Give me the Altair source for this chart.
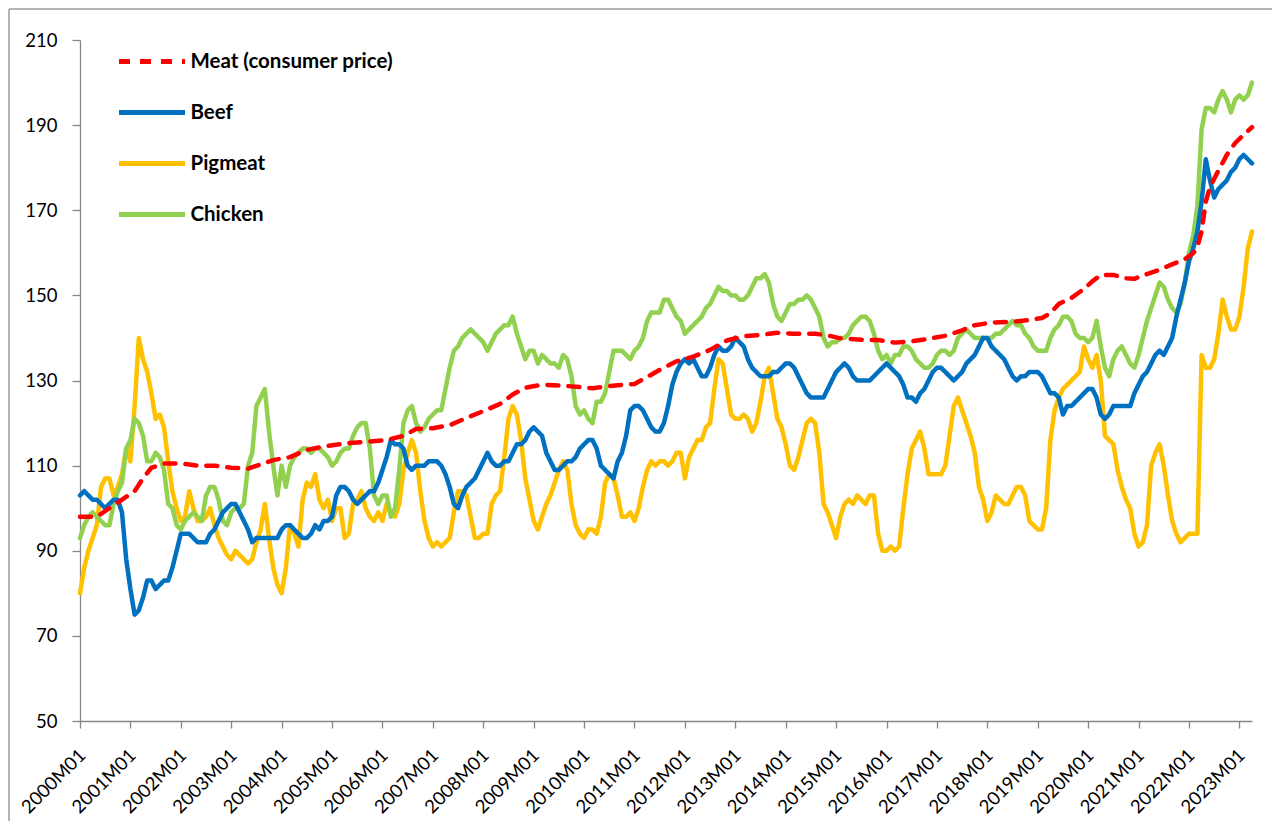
import altair as alt
import pandas as pd

SERIES = ["Meat (consumer price)", "Beef", "Pigmeat", "Chicken"]
COLORS = ["#FF0000", "#0070C0", "#FFC000", "#92D050"]
DASHES = [[11, 10], [1, 0], [1, 0], [1, 0]]

# monthly index 0 = 2000M01 ... 279 = 2023M04
beef = [
    103, 104, 103, 102, 102, 101, 100, 101, 102, 102, 99, 88,
    81, 75, 76, 79, 83, 83, 81, 82, 83, 83, 86, 90,
    94, 94, 94, 93, 92, 92, 92, 94, 95, 97, 99, 100,
    101, 101, 99, 97, 95, 92, 93, 93, 93, 93, 93, 93,
    95, 96, 96, 95, 94, 93, 93, 94, 96, 95, 97, 97,
    98, 103, 105, 105, 104, 102, 101, 102, 103, 104, 104, 106,
    109, 112, 116, 115, 115, 114, 110, 109, 110, 110, 110, 111,
    111, 111, 110, 108, 105, 101, 100, 103, 105, 106, 107, 109,
    111, 113, 111, 110, 110, 111, 111, 113, 115, 115, 116, 118,
    119, 118, 117, 113, 111, 109, 109, 110, 111, 111, 112, 114,
    115, 116, 116, 114, 110, 109, 108, 107, 111, 113, 117, 123,
    124, 124, 123, 121, 119, 118, 118, 120, 124, 129, 132, 134,
    135, 134, 135, 133, 131, 131, 133, 136, 138, 137, 137, 138,
    140, 139, 138, 135, 133, 132, 131, 131, 131, 132, 132, 133,
    134, 134, 133, 131, 129, 127, 126, 126, 126, 126, 128, 130,
    132, 133, 134, 133, 131, 130, 130, 130, 130, 131, 132, 133,
    134, 133, 132, 131, 129, 126, 126, 125, 127, 128, 130, 132,
    133, 133, 132, 131, 130, 131, 132, 134, 135, 136, 138, 140,
    140, 138, 137, 136, 135, 133, 131, 130, 131, 131, 132, 132,
    132, 131, 129, 127, 127, 126, 122, 124, 124, 125, 126, 127,
    128, 128, 126, 122, 121, 122, 124, 124, 124, 124, 124, 127,
    129, 131, 132, 134, 136, 137, 136, 138, 140, 145, 149, 153,
    158, 161, 165, 172, 182, 177, 173, 175, 176, 177, 179, 180,
    182, 183, 182, 181,
]

pigmeat = [
    80, 86, 90, 93, 96, 105, 107, 107, 103, 105, 108, 114,
    111, 124, 140, 135, 132, 127, 121, 122, 119, 111, 104, 100,
    97, 98, 104, 100, 97, 97, 98, 100, 96, 93, 91, 89,
    88, 90, 89, 88, 87, 88, 92, 95, 101, 93, 86, 82,
    80, 86, 96, 94, 91, 102, 106, 105, 108, 102, 100, 102,
    97, 100, 100, 93, 94, 101, 102, 104, 100, 98, 97, 99,
    97, 101, 99, 98, 101, 109, 113, 116, 113, 104, 97, 93,
    91, 92, 91, 92, 93, 99, 104, 104, 103, 98, 93, 93,
    94, 94, 101, 103, 104, 112, 121, 124, 122, 116, 107, 102,
    97, 95, 98, 101, 103, 106, 109, 111, 109, 101, 96, 94,
    93, 95, 95, 94, 98, 106, 108, 107, 103, 98, 98, 99,
    97, 100, 105, 109, 111, 110, 111, 111, 110, 111, 113, 113,
    107, 112, 114, 116, 116, 119, 120, 128, 135, 134, 128, 122,
    121, 121, 122, 121, 118, 120, 125, 131, 133, 127, 121, 119,
    115, 110, 109, 112, 116, 120, 121, 120, 113, 101, 99, 96,
    93, 98, 101, 102, 101, 103, 102, 101, 103, 103, 94, 90,
    90, 91, 90, 91, 100, 108, 114, 116, 118, 114, 108, 108,
    108, 108, 110, 117, 124, 126, 123, 120, 117, 113, 105, 102,
    97, 99, 103, 102, 101, 101, 103, 105, 105, 103, 97, 96,
    95, 95, 100, 116, 123, 126, 128, 129, 130, 131, 132, 138,
    135, 133, 136, 130, 117, 116, 115, 109, 105, 102, 100, 94,
    91, 92, 96, 110, 113, 115, 110, 103, 97, 94, 92, 93,
    94, 94, 94, 136, 133, 133, 135, 141, 149, 145, 142, 142,
    145, 152, 161, 165,
]

chicken = [
    93, 96, 98, 99, 98, 97, 96, 96, 101, 104, 106, 114,
    116, 121, 120, 117, 111, 111, 113, 112, 109, 101, 100, 96,
    95, 97, 98, 99, 98, 97, 103, 105, 105, 102, 97, 96,
    99, 100, 100, 101, 110, 113, 124, 126, 128, 118, 110, 103,
    110, 105, 110, 112, 113, 114, 114, 113, 114, 114, 113, 112,
    110, 111, 113, 114, 114, 117, 119, 120, 120, 114, 103, 101,
    103, 103, 98, 100, 109, 120, 123, 124, 120, 118, 119, 121,
    122, 123, 123, 128, 133, 137, 138, 140, 141, 142, 141, 140,
    139, 137, 139, 141, 142, 143, 143, 145, 141, 138, 135, 137,
    137, 134, 136, 135, 134, 134, 133, 136, 135, 131, 124, 122,
    123, 121, 120, 125, 125, 127, 132, 137, 137, 137, 136, 135,
    137, 138, 140, 144, 146, 146, 146, 149, 149, 147, 145, 144,
    141, 142, 143, 144, 145, 147, 148, 150, 152, 151, 151, 150,
    150, 149, 149, 150, 152, 154, 154, 155, 153, 148, 145, 144,
    146, 148, 148, 149, 149, 150, 149, 147, 145, 140, 138, 139,
    139, 140, 140, 141, 143, 144, 145, 145, 144, 141, 137, 135,
    136, 134, 136, 136, 138, 138, 137, 135, 134, 133, 133, 134,
    136, 137, 137, 136, 137, 140, 141, 142, 141, 140, 140, 140,
    140, 140, 141, 141, 142, 143, 144, 143, 143, 141, 140, 138,
    137, 137, 137, 140, 142, 143, 145, 145, 144, 141, 140, 140,
    139, 140, 144, 138, 133, 131, 135, 137, 138, 136, 134, 133,
    136, 140, 144, 147, 150, 153, 152, 149, 147, 146, 148, 153,
    160, 164, 171, 189, 194, 194, 193, 196, 198, 196, 193, 196,
    197, 196, 197, 200,
]

meat_months = [
    0, 4, 7, 10, 13, 15, 17, 20, 24, 28, 32, 36, 40, 43, 46, 50, 54, 58, 63, 68,
    73, 77, 80, 84, 88, 92, 96, 100, 103, 106, 110, 116, 122, 128, 132, 135, 138,
    142, 146, 150, 154, 158, 162, 166, 170, 175, 178, 181, 186, 190, 194, 198, 202,
    206, 210, 213, 217, 222, 226, 229, 231, 233, 236, 239, 241, 243, 246, 249, 251,
    254, 257, 260, 263, 265, 266, 267, 268, 269, 271, 273, 275, 277, 279,
]
meat_values = [
    98, 98, 100, 102, 104, 107, 109.5, 110.5, 110.5, 110, 110, 109.5, 109.3, 110.3,
    111.3, 112, 113.7, 114.5, 115.2, 115.6, 116, 117, 118.6, 118.8, 119.5, 121.2,
    122.8, 124.5, 126.7, 128.3, 129, 128.7, 128.2, 128.9, 129.2, 130.8, 132.5, 134.5,
    135.6, 137.2, 139.4, 140.4, 140.7, 141.2, 141, 141, 140.6, 139.9, 139.6, 139.5,
    138.9, 139.2, 139.8, 140.5, 141.8, 143, 143.6, 143.8, 144.2, 144.7, 145.8, 148,
    149.4, 151.5, 153.3, 154.8, 154.8, 154, 153.9, 155, 156, 157.3, 158.5, 159.9,
    161.4, 165, 172, 175.5, 179.3, 183, 185.8, 187.7, 189.5,
]

tick_months = list(range(0, 277, 12))
tick_labels = [f"{2000 + i}M01" for i in range(len(tick_months))]
y_ticks = [50, 70, 90, 110, 130, 150, 170, 190, 210]

assert len(beef) == 280 and len(pigmeat) == 280 and len(chicken) == 280
assert len(meat_months) == len(meat_values)

rows = []
for name, vals in [("Beef", beef), ("Pigmeat", pigmeat), ("Chicken", chicken)]:
    for m, v in enumerate(vals):
        rows.append({"month": m, "value": v, "series": name})
for m, v in zip(meat_months, meat_values):
    rows.append({"month": m, "value": v, "series": SERIES[0]})
df = pd.DataFrame(rows)

label_expr = "[" + ",".join(f"'{t}'" for t in tick_labels) + "][round(datum.value / 12)]"

FONT = "Lato"
GRAY = "#868686"
W, H = 1172, 681
PAD = {"left": 72, "top": 32, "right": 20, "bottom": 100}

legend = alt.Legend(
    title=None, orient="none", legendX=36.5, legendY=-14,
    symbolType="stroke", symbolSize=4356, symbolStrokeWidth=5,
    labelFont=FONT, labelFontSize=20.5, labelFontWeight="bold", labelColor="#000000",
    labelOffset=3, rowPadding=5, padding=0, labelLimit=400,
)

base = alt.Chart(df).mark_line(strokeWidth=4.5, strokeCap="round", strokeJoin="round").encode(
    x=alt.X(
        "month:Q",
        scale=alt.Scale(domain=[0, 279], nice=False, zero=False),
        axis=alt.Axis(
            values=tick_months, labelExpr=label_expr, title=None, grid=False,
            labelAngle=-45, labelAlign="right", labelBaseline="middle",
            labelPadding=24, labelOffset=2, labelFlush=False, labelOverlap=False,
            labelFont=FONT, labelFontSize=18.5, labelColor="#000000",
            tickSize=7, tickColor=GRAY, tickWidth=1.3,
            domainColor=GRAY, domainWidth=1.3,
        ),
    ),
    y=alt.Y(
        "value:Q",
        scale=alt.Scale(domain=[50, 210], nice=False, zero=False),
        axis=alt.Axis(
            values=y_ticks, title=None, grid=False, labelFlush=False,
            labelFont=FONT, labelFontSize=18.5, labelColor="#000000", labelPadding=15,
            tickSize=8, tickColor=GRAY, tickWidth=1.3,
            domainColor=GRAY, domainWidth=1.3,
        ),
    ),
    color=alt.Color("series:N", scale=alt.Scale(domain=SERIES, range=COLORS), legend=legend),
    strokeDash=alt.StrokeDash("series:N", scale=alt.Scale(domain=SERIES, range=DASHES), legend=legend),
)

draw_order = ["Pigmeat", "Chicken", "Beef", "Meat (consumer price)"]
layers = [base.transform_filter(alt.datum.series == s) for s in draw_order]

# chart-area frame (top and left edges, as in the spreadsheet export)
frame_src = alt.Chart(pd.DataFrame({"k": [0]}))
frame_top = frame_src.mark_rule(color="#9a9a9a", strokeWidth=1.5).encode(
    x=alt.value(-PAD["left"] + 1), x2=alt.value(W + PAD["right"]), y=alt.value(-PAD["top"] + 1)
)
frame_left = frame_src.mark_rule(color="#9a9a9a", strokeWidth=1.5).encode(
    x=alt.value(-PAD["left"] + 1), y=alt.value(-PAD["top"] + 1), y2=alt.value(H + PAD["bottom"])
)

chart = alt.layer(frame_top, frame_left, *layers).properties(
    width=W, height=H,
    autosize=alt.AutoSizeParams(type="none"),
    padding=PAD,
    background="white",
).configure_view(stroke=None)

chart.save("out.html", embed_options={"renderer": "svg", "actions": False})
